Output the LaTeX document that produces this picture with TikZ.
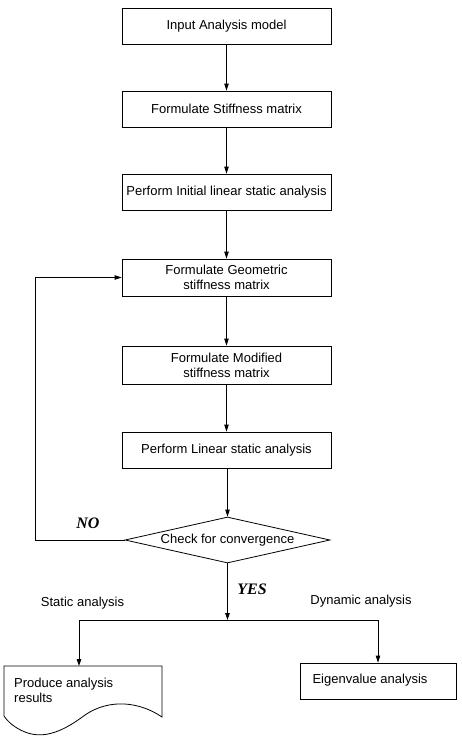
\documentclass[tikz,border=0pt]{standalone}
\usepackage{fontspec}
\setmainfont{Liberation Sans}
\newfontfamily\labelfont{Liberation Serif}
\usetikzlibrary{shapes.geometric,arrows.meta}
\begin{document}
\begin{tikzpicture}[x=1pt,y=-1pt,
  every node/.style={font=\fontsize{13}{15}\selectfont},
  procbox/.style={draw, line width=0.8pt, minimum width=209pt, minimum height=36pt, inner sep=0pt, align=center},
  decision/.style={draw, line width=0.8pt, diamond, shape aspect=4.46, minimum width=205pt, minimum height=46pt, inner sep=0pt},
  arr/.style={line width=0.8pt, -{Triangle[width=4.5pt,length=7pt]}},
  ln/.style={line width=0.8pt},
  yesno/.style={font=\labelfont\bfseries\itshape\fontsize{16}{18}\selectfont}
]
\useasboundingbox (0,0) rectangle (461,742);

\node[procbox] (b1) at (226.5,26) {Input Analysis model};
\node[procbox] (b2) at (226.5,109) {Formulate Stiffness matrix};
\node[procbox] (b3) at (226.5,192) {Perform Initial linear static analysis};
\node[procbox, minimum height=37pt] (b4) at (226.5,277.5) {Formulate Geometric\\stiffness matrix};
\node[procbox, minimum height=38pt] (b5) at (226.5,365) {Formulate Modified\\stiffness matrix};
\node[procbox] (b6) at (226.5,450) {Perform Linear static analysis};
\node[decision] (d) at (227.5,540) {Check for convergence};

\draw[arr] (b1) -- (b2);
\draw[arr] (b2) -- (b3);
\draw[arr] (b3) -- (b4);
\draw[arr] (b4) -- (b5);
\draw[arr] (b5) -- (b6);
\draw[arr] (b6.south -| d.north) -- (d.north);

% loop back
\coordinate (la) at (35,540);
\coordinate (lb) at (35,277.5);
\draw[arr] (d.west) -- (la) -- (lb) -- (b4.west);
\node[yesno] (no) at (88,523) {NO};

% yes branch
\coordinate (j) at (227.5,620);
\coordinate (jl) at (79,620);
\coordinate (jr) at (378,620);
\draw[arr] (d.south) -- (j);
\draw[ln] (jl) -- (jr);
\node[yesno] (yes) at (252,589) {YES};
\node (st) at (82.5,603) {Static analysis};
\node (dy) at (361,601) {Dynamic analysis};

% document shape
\node[minimum width=158pt, minimum height=50pt, inner sep=0pt] (doc) at (83,691) {};
\draw[line width=0.8pt] (4,666) -- (162,666) -- (162,717)
  .. controls (140,702) and (110,698) .. (85,715)
  .. controls (65,730) and (45,740) .. (25,732)
  .. controls (15,728) and (8,722) .. (4,716) -- cycle;
\node[anchor=west, align=left, inner sep=0pt] (doct) at (14,690) {Produce analysis\\results};
\coordinate (dt) at (79,666);
\draw[arr] (jl) -- (dt);

% eigen box
\node[draw, line width=0.8pt, minimum width=156pt, minimum height=36pt, inner sep=0pt] (eig) at (378,681) {};
\node (eigt) at (370,680) {Eigenvalue analysis};
\draw[arr] (jr) -- (eig.north);
\end{tikzpicture}
\end{document}
